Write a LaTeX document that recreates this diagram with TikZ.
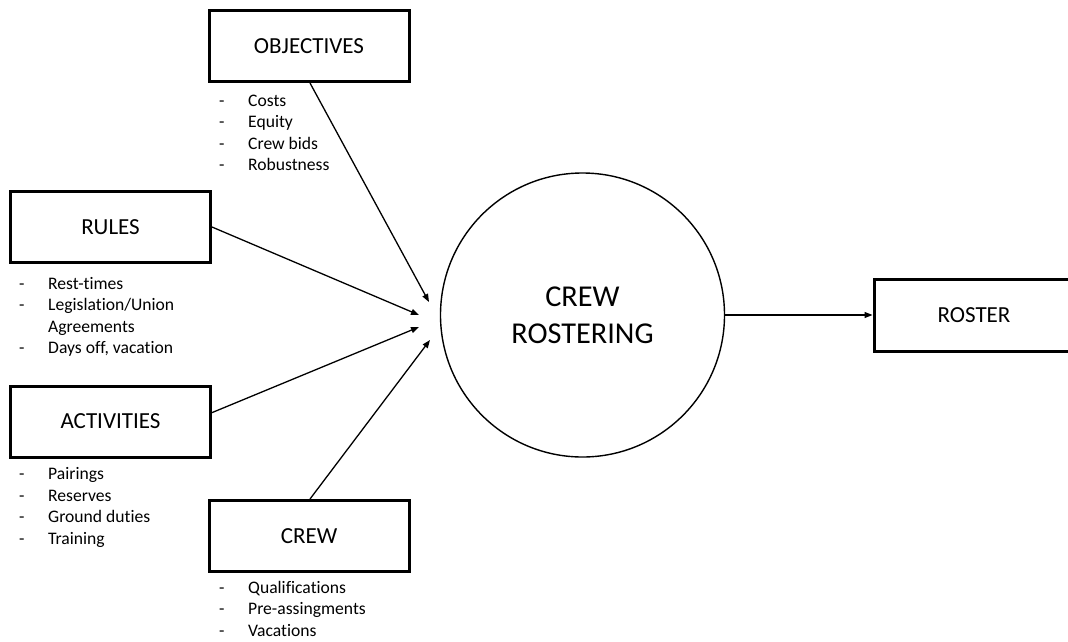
\documentclass[tikz,border=0pt]{standalone}
\usepackage{fontspec}
\setmainfont[Ligatures=NoCommon]{Carlito}
\usetikzlibrary{arrows.meta}
\tikzset{
  inbox/.style={draw, line width=3pt, minimum width=200pt, minimum height=71pt,
    inner sep=0pt, font=\fontsize{23}{28}\selectfont},
  core/.style={draw, circle, line width=1.4pt, minimum size=284pt, inner sep=0pt,
    align=center, font=\fontsize{30.3}{37}\selectfont},
  feed/.style={line width=1.3pt, -{Triangle[length=8pt,width=6pt]}},
  items/.style={anchor=base west, inner sep=0pt, font=\fontsize{17.6}{21.5}\selectfont}
}
\newcommand{\itemlist}[1]{\begin{tabular}[t]{@{}p{29pt}@{}l@{}}#1\end{tabular}}
\begin{document}
\begin{tikzpicture}[x=1pt, y=-1pt]
  \useasboundingbox (0,0) rectangle (1068,641);
  \clip (0,0) rectangle (1068,641);
  \fill[white] (0,0) rectangle (1068,641);

  % input boxes
  \node[inbox] (obj)   at (309,46)    {OBJECTIVES};
  \node[inbox] (rules) at (110.5,227) {RULES};
  \node[inbox] (act)   at (110.5,421.5) {ACTIVITIES};
  \node[inbox] (crew)  at (309,536)   {CREW};

  % central process and output
  \node[core] (cr) at (582.5,315) {CREW\\ROSTERING};
  \node[inbox, minimum height=72pt] (roster) at (974,315) {ROSTER};

  % bullet lists under each box
  \node[items] (objl) at (219,106) {\itemlist{-&Costs\\-&Equity\\-&Crew bids\\-&Robustness}};
  \node[items] (rulesl) at (19,289) {\itemlist{-&Rest-times\\-&Legislation/Union\\&Agreements\\-&Days off, vacation}};
  \node[items] (actl) at (19,479.5) {\itemlist{-&Pairings\\-&Reserves\\-&Ground duties\\-&Training}};
  \node[items] (crewl) at (219,593) {\itemlist{-&Qualifications\\-&Pre-assingments\\-&Vacations}};

  % arrow tips gathering in front of the circle
  \coordinate (t1) at (429,302);
  \coordinate (t2) at (419,315);
  \coordinate (t3) at (419,327);
  \coordinate (t4) at (430,340);

  \draw[feed] ([xshift=1pt]obj.south) -- (t1);
  \draw[feed] (rules.east) -- (t2);
  \draw[feed] (act.5) -- (t3);
  \draw[feed] ([xshift=1pt]crew.north) -- (t4);
  \draw[feed] (cr.east) -- (roster.west);
\end{tikzpicture}
\end{document}
